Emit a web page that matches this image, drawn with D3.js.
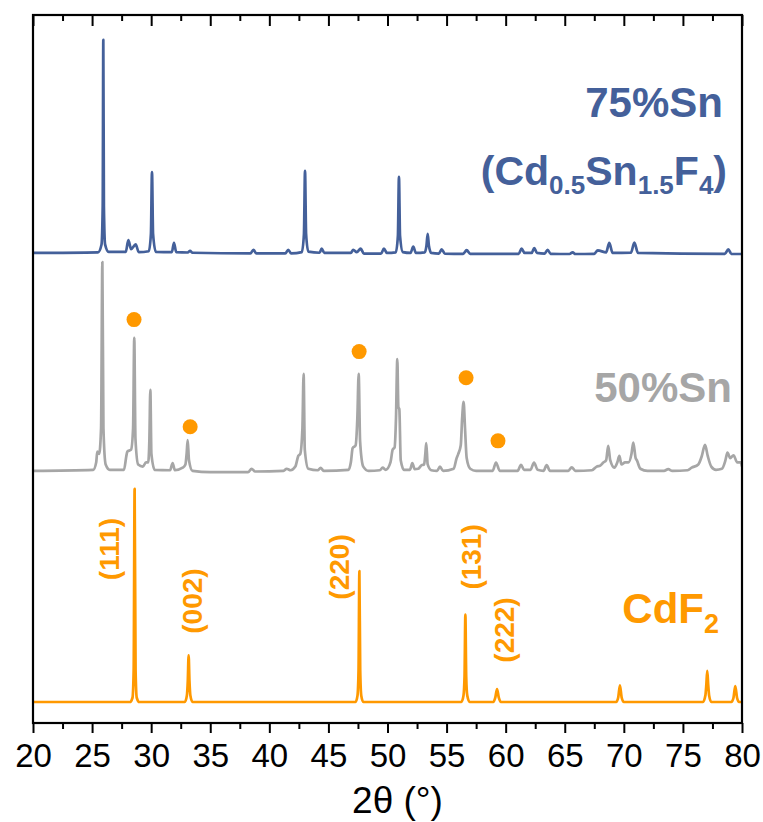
<!DOCTYPE html>
<html>
<head>
<meta charset="utf-8">
<script src="https://cdn.jsdelivr.net/npm/d3@7"></script>
<style>
  html, body { margin: 0; padding: 0; background: #ffffff; }
  svg { display: block; }
  text { font-family: "Liberation Sans", Arial, "DejaVu Sans", sans-serif; }
</style>
</head>
<body>
<svg id="chart" width="763" height="822"></svg>
<script>
// ---------------- data (2θ in degrees, normalized intensity) ----------------
const xTicks = [20, 25, 30, 35, 40, 45, 50, 55, 60, 65, 70, 75, 80];
const xMinorTicks = [22.5, 27.5, 32.5, 37.5, 42.5, 47.5, 52.5, 57.5, 62.5, 67.5, 72.5, 77.5];
const xTitle = "2θ (°)";

const sn75 = [
  [20, 0], [25.5, 0.3], [25.8, 4], [25.9, 22], [25.95, 100], [26.0, 22], [26.1, 4], [26.4, 0.5],
  [27.85, 0.5], [28.07, 6], [28.3, 1.8], [28.69, 4], [28.95, 0.4],
  [29.8, 0.8], [29.98, 9], [30.07, 38], [30.16, 9], [30.4, 0.5],
  [31.75, 0.4], [31.93, 4.7], [32.12, 0.4],
  [33.1, 0.2], [33.29, 1], [33.5, 0.1],
  [38.4, -0.2], [38.65, 1.5], [38.9, -0.2],
  [41.35, -0.2], [41.6, 1.5], [41.85, -0.2],
  [42.75, 0.4], [42.93, 9], [43.02, 38.5], [43.11, 9], [43.3, 0.6],
  [44.25, 0.1], [44.43, 2], [44.65, 0],
  [46.9, 0], [47.1, 1.5], [47.4, 0.4], [47.73, 2], [48.0, -0.3],
  [49.45, -0.3], [49.7, 2], [49.95, 0],
  [50.7, 0.3], [50.88, 8], [50.97, 35.7], [51.06, 8], [51.3, 0.4],
  [51.95, 0], [52.18, 3], [52.4, 0], [53.15, 0.3], [53.3, 3.5], [53.4, 9], [53.5, 3.5], [53.7, 0],
  [54.35, -0.3], [54.58, 1.7], [54.85, -0.3],
  [56.4, -0.4], [56.7, 1.3], [57.0, -0.4],
  [61.1, -0.4], [61.35, 2], [61.6, 0], [62.2, 0], [62.42, 2.3], [62.65, 0], [63.3, -0.3], [63.55, 1.5], [63.8, -0.4],
  [65.4, -0.5], [65.67, 0.3], [65.9, -0.5],
  [67.5, -0.4], [67.79, 1.2], [68.5, 0.3], [68.77, 4.7], [69.05, 0],
  [70.6, 0.1], [70.89, 4.8], [71.2, 0],
  [78.55, -0.4], [78.84, 1.7], [79.1, -0.4], [80, -0.5]
];

const sn50 = [
  [20, 0], [25.1, 0.5], [25.35, 4], [25.44, 9], [25.6, 8], [25.76, 20], [25.87, 98], [25.96, 20], [26.15, 3], [26.5, 0.5],
  [27.7, 0.5], [27.9, 7], [27.98, 9], [28.3, 10], [28.47, 20], [28.57, 62.5], [28.67, 15], [28.9, 3], [29.3, 2], [29.56, 4], [29.75, 4], [29.85, 15], [29.93, 38], [30.02, 8], [30.3, 0.5],
  [31.6, 0.3], [31.82, 3.7], [32.0, 0.3], [32.67, 1.5], [32.9, 3], [33.0, 8], [33.09, 14.5], [33.2, 5], [33.5, 0],
  [35, -0.6], [38.2, -0.6], [38.5, 1], [38.8, -0.3],
  [41.2, 0], [41.47, 1], [41.8, 0.3], [42.2, 2], [42.45, 7], [42.62, 8], [42.8, 20], [42.9, 45.5], [43.0, 10], [43.3, 1], [44.1, 0.3], [44.34, 1.4], [44.6, 0],
  [46.7, 0.5], [46.9, 4], [47.05, 10.7], [47.3, 12], [47.45, 25], [47.56, 45.5], [47.68, 14], [47.95, 2], [48.4, 0],
  [49.35, 0.3], [49.59, 1.5], [49.85, 0.5], [50.25, 4], [50.44, 10], [50.6, 11], [50.72, 25], [50.83, 52.5], [50.92, 30], [51.0, 29], [51.12, 5], [51.4, 0.5],
  [51.9, 0.5], [52.1, 3.6], [52.3, 0.8], [52.6, 1], [52.89, 2.7], [53.1, 3], [53.2, 8], [53.28, 13], [53.4, 3], [53.7, 0.3],
  [54.2, 0], [54.44, 2], [54.7, 0],
  [55.6, 1], [55.85, 6], [55.99, 8], [56.2, 12], [56.32, 25], [56.44, 32.4], [56.56, 20], [56.7, 6], [57.0, 1], [57.5, 0],
  [58.9, 0], [59.18, 3.9], [59.5, 0],
  [61.0, 0], [61.3, 2.8], [61.55, 0.5], [62.1, 0.5], [62.4, 3.9], [62.7, 0.5], [63.2, 0], [63.47, 2.7], [63.75, 0],
  [65.3, 0], [65.59, 1.7], [65.9, 0],
  [67.3, 0.3], [67.7, 2], [68.0, 2.5], [68.26, 3.9], [68.5, 5], [68.68, 11.7], [68.85, 5], [69.2, 1.5], [69.45, 4], [69.62, 7], [69.8, 3], [70.1, 4], [70.4, 4], [70.65, 8], [70.8, 13.3], [71.0, 6], [71.1, 5], [71.4, 1], [72, 0],
  [73.4, 0], [73.76, 0.8], [74.1, 0],
  [75.4, 0.3], [75.74, 1.5], [76.3, 3], [76.6, 7], [76.87, 12.2], [77.1, 7], [77.4, 2], [77.8, 0.5], [78.3, 1], [78.6, 5], [78.77, 8.6], [79.0, 6], [79.28, 7.3], [79.6, 4], [79.9, 4], [80, 2]
];

const cdf2 = [
  [20, 0], [28.2, 0], [28.42, 2], [28.52, 15], [28.6, 100], [28.68, 15], [28.78, 2], [29.0, 0],
  [32.85, 0], [33.02, 3], [33.1, 10], [33.17, 21.9], [33.24, 10], [33.32, 3], [33.5, 0],
  [47.3, 0], [47.46, 3], [47.55, 15], [47.62, 61.4], [47.69, 15], [47.78, 3], [47.95, 0],
  [56.25, 0], [56.43, 3], [56.52, 12], [56.59, 41], [56.66, 12], [56.75, 3], [56.95, 0],
  [58.95, 0], [59.12, 2], [59.27, 6], [59.42, 2], [59.6, 0],
  [69.35, 0], [69.52, 2], [69.67, 7.8], [69.82, 2], [70.0, 0],
  [76.7, 0], [76.9, 3], [76.98, 8], [77.06, 14.6], [77.14, 8], [77.22, 3], [77.4, 0],
  [79.1, 0], [79.28, 2], [79.43, 7.5], [79.58, 2], [79.75, 0], [80, 0]
];

// CdF2 reflection markers on the 50%Sn pattern
const markerX = [28.55, 33.3, 47.6, 56.65, 59.35];
const markerY = [71, 20.7, 56, 43.7, 14.1];

// hkl labels for CdF2
const hklText = ["(111)", "(002)", "(220)", "(131)", "(222)"];
const hklX = [26.43, 33.45, 45.9, 57.07, 59.86];
const hklY = [71.8, 47.4, 63.4, 68.1, 33.8];

// ---------------- layout / style ----------------
const W = 763, H = 822;
const L = 33, R = 742, T = 15, B = 723;
const offsets = { sn75: 210.8, sn50: 108.5, cdf2: 0 };
const colors = { sn75: "#44609a", sn50: "#a6a6a6", cdf2: "#ff9900" };

const svg = d3.select("#chart");
const x = d3.scaleLinear().domain([20, 80]).range([L, R]);
const y = d3.scaleLinear().domain([-9.86, 322.5]).range([B, T]);

svg.append("defs").append("clipPath").attr("id", "clip")
  .append("rect").attr("x", L).attr("y", T).attr("width", R - L).attr("height", B - T);

const plot = svg.append("g").attr("clip-path", "url(#clip)");

function drawTrace(data, off, color) {
  const line = d3.line()
    .x(d => x(d[0]))
    .y(d => y(d[1] + off))
    .curve(d3.curveMonotoneX);
  plot.append("path")
    .datum(data)
    .attr("d", line)
    .attr("fill", "none")
    .attr("stroke", color)
    .attr("stroke-width", 2.7)
    .attr("stroke-linejoin", "round");
}
drawTrace(cdf2, offsets.cdf2, colors.cdf2);
drawTrace(sn50, offsets.sn50, colors.sn50);
drawTrace(sn75, offsets.sn75, colors.sn75);

// markers
svg.append("g").selectAll("circle")
  .data(markerX.map((v, i) => [v, markerY[i]]))
  .join("circle")
  .attr("cx", d => x(d[0]))
  .attr("cy", d => y(d[1] + offsets.sn50))
  .attr("r", 7.5)
  .attr("fill", colors.cdf2);

// hkl labels
svg.append("g").selectAll("text")
  .data(hklText.map((t, i) => ({ t, x: hklX[i], y: hklY[i] })))
  .join("text")
  .attr("transform", d => `translate(${x(d.x)},${y(d.y + offsets.cdf2)}) rotate(-90)`)
  .attr("text-anchor", "middle")
  .attr("dy", "0.35em")
  .attr("font-size", 28)
  .attr("font-weight", "bold")
  .attr("fill", colors.cdf2)
  .text(d => d.t);

// series labels
svg.append("text")
  .attr("x", 723).attr("y", 117)
  .attr("text-anchor", "end")
  .attr("font-size", 42).attr("font-weight", "bold")
  .attr("fill", colors.sn75)
  .text("75%Sn");

const f = svg.append("text")
  .attr("x", 727).attr("y", 185)
  .attr("text-anchor", "end")
  .attr("font-size", 41).attr("font-weight", "bold")
  .attr("fill", colors.sn75);
f.append("tspan").text("(Cd");
f.append("tspan").attr("font-size", 26).attr("dy", 9).text("0.5");
f.append("tspan").attr("dy", -9).text("Sn");
f.append("tspan").attr("font-size", 26).attr("dy", 9).text("1.5");
f.append("tspan").attr("dy", -9).text("F");
f.append("tspan").attr("font-size", 26).attr("dy", 9).text("4");
f.append("tspan").attr("dy", -9).text(")");

svg.append("text")
  .attr("x", 732).attr("y", 402)
  .attr("text-anchor", "end")
  .attr("font-size", 42).attr("font-weight", "bold")
  .attr("fill", colors.sn50)
  .text("50%Sn");

const c = svg.append("text")
  .attr("x", 719).attr("y", 623)
  .attr("text-anchor", "end")
  .attr("font-size", 42).attr("font-weight", "bold")
  .attr("fill", colors.cdf2);
c.append("tspan").text("CdF");
c.append("tspan").attr("font-size", 27).attr("dy", 10).text("2");

// axes
const bottomMajor = d3.axisBottom(x).tickValues(xTicks).tickSize(10).tickPadding(11).tickFormat(d3.format("d"));
const bottomMinor = d3.axisBottom(x).tickValues(xMinorTicks).tickSize(6).tickFormat("");
const topMajor = d3.axisTop(x).tickValues(xTicks).tickSize(-11).tickFormat("");
const topMinor = d3.axisTop(x).tickValues(xMinorTicks).tickSize(-6).tickFormat("");

function styleAxis(g) {
  g.select(".domain").remove();
  g.selectAll(".tick line").attr("stroke", "#000").attr("stroke-width", 2);
  g.selectAll(".tick text").attr("fill", "#000").attr("font-size", 33)
    .attr("font-family", "\"Liberation Sans\", Arial, sans-serif");
}
svg.append("g").attr("transform", `translate(0,${B})`).call(bottomMajor).call(styleAxis);
svg.append("g").attr("transform", `translate(0,${B})`).call(bottomMinor).call(styleAxis);
svg.append("g").attr("transform", `translate(0,${T})`).call(topMajor).call(styleAxis);
svg.append("g").attr("transform", `translate(0,${T})`).call(topMinor).call(styleAxis);

// frame
svg.append("rect")
  .attr("x", L).attr("y", T).attr("width", R - L).attr("height", B - T)
  .attr("fill", "none").attr("stroke", "#000").attr("stroke-width", 2.2);

// axis title
svg.append("text")
  .attr("x", (L + R) / 2 + 10).attr("y", 813)
  .attr("text-anchor", "middle")
  .attr("font-size", 37)
  .attr("fill", "#000")
  .text(xTitle);
</script>
</body>
</html>
